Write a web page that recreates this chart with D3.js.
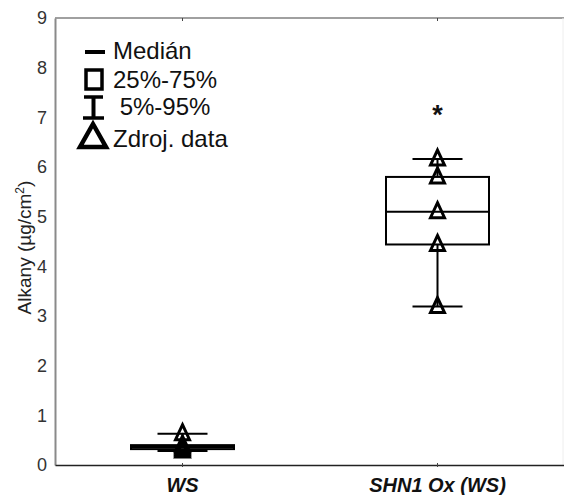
<!DOCTYPE html>
<html>
<head>
<meta charset="utf-8">
<script src="https://cdn.jsdelivr.net/npm/d3@7"></script>
<style>
  html, body { margin: 0; padding: 0; background: #fff; }
  svg { display: block; font-family: "Liberation Sans", Arial, sans-serif; }
</style>
</head>
<body>
<svg id="chart" width="564" height="495"></svg>
<script>
// ---- Data ----
const categories = ["WS", "SHN1 Ox (WS)"];
const rawData = [
  [0.28, 0.32, 0.36, 0.40, 0.63],
  [3.19, 4.44, 5.10, 5.80, 6.16]
];
const medians = [0.36, 5.10];
const q1 = [0.32, 4.44];
const q3 = [0.40, 5.80];
const p05 = [0.28, 3.19];
const p95 = [0.63, 6.16];
const significance = [null, 7.15];
const yTicks = [0, 1, 2, 3, 4, 5, 6, 7, 8, 9];
const legendLabels = ["Medián", "25%-75%", " 5%-95%", "Zdroj. data"];
const yTitle = "Alkany (µg/cm";

// ---- Layout ----
const svg = d3.select("#chart");
const mLeft = 55, mRight = 565, mTop = 18, mBottom = 465;

const x = d3.scaleBand().domain(categories).range([mLeft, mRight]).paddingInner(0).paddingOuter(0);
const y = d3.scaleLinear().domain([0, 9]).range([mBottom, mTop]);
const cx = c => x(c) + x.bandwidth() / 2;

// frame
svg.append("line").attr("x1", mLeft).attr("x2", mRight).attr("y1", mTop).attr("y2", mTop)
  .attr("stroke", "#808080").attr("stroke-width", 1.5);
svg.append("line").attr("x1", 563).attr("x2", 563).attr("y1", mTop).attr("y2", mBottom)
  .attr("stroke", "#eeeeee").attr("stroke-width", 1);

// y axis
const yAxis = svg.append("g").attr("transform", `translate(${mLeft},0)`)
  .call(d3.axisLeft(y).tickValues(yTicks).tickFormat(d3.format("d")).tickSize(0).tickPadding(8));
yAxis.select(".domain").attr("stroke", "#8a8a8a").attr("stroke-width", 2);
yAxis.selectAll("text").attr("font-size", 18).attr("fill", "#333")
  .attr("font-family", "Liberation Sans, Arial, sans-serif");

// x axis (bottom)
const xAxis = svg.append("g").attr("transform", `translate(0,${mBottom})`)
  .call(d3.axisBottom(x).tickSize(3).tickPadding(6).tickSizeOuter(0));
xAxis.select(".domain").attr("stroke", "#222").attr("stroke-width", 1.5);
xAxis.selectAll(".tick line").attr("stroke", "#444").attr("y1", -2).attr("y2", 2);
xAxis.selectAll("text").attr("font-size", 20).attr("font-weight", "bold").attr("font-style", "italic")
  .attr("fill", "#111").attr("font-family", "Liberation Sans, Arial, sans-serif").attr("dy", "0.92em");

// top tick marks
svg.append("g").selectAll("line").data(categories).join("line")
  .attr("x1", d => cx(d)).attr("x2", d => cx(d)).attr("y1", mTop).attr("y2", mTop + 3)
  .attr("stroke", "#444").attr("stroke-width", 1);

// y title
const yt = svg.append("text")
  .attr("transform", `translate(31,${(mTop + mBottom) / 2 + 6}) rotate(-90)`)
  .attr("text-anchor", "middle").attr("font-size", 19).attr("fill", "#222");
yt.append("tspan").text(yTitle);
yt.append("tspan").text("2").attr("font-size", 12).attr("dy", -7);
yt.append("tspan").text(")").attr("dy", 7);

// ---- Boxes ----
const boxW = 103, capW = 50;
const g = svg.append("g");
categories.forEach((c, i) => {
  const xc = cx(c);
  g.append("line").attr("x1", xc).attr("x2", xc).attr("y1", y(p05[i])).attr("y2", y(p95[i]))
    .attr("stroke", "#000").attr("stroke-width", 2);
  [p05[i], p95[i]].forEach(v => {
    g.append("line").attr("x1", xc - capW / 2).attr("x2", xc + capW / 2).attr("y1", y(v)).attr("y2", y(v))
      .attr("stroke", "#000").attr("stroke-width", 2);
  });
  g.append("rect").attr("x", xc - boxW / 2).attr("y", y(q3[i])).attr("width", boxW)
    .attr("height", y(q1[i]) - y(q3[i])).attr("fill", "#fff").attr("stroke", "#000").attr("stroke-width", 2);
  g.append("line").attr("x1", xc - boxW / 2).attr("x2", xc + boxW / 2).attr("y1", y(medians[i])).attr("y2", y(medians[i]))
    .attr("stroke", "#000").attr("stroke-width", 2);
  g.selectAll(null).data(rawData[i]).join("path")
    .attr("d", d => `M${xc},${y(d) - 9} L${xc + 7},${y(d) + 6} L${xc - 7},${y(d) + 6} Z`)
    .attr("fill", "none").attr("stroke", "#000").attr("stroke-width", 3).attr("stroke-linejoin", "miter");
  if (significance[i] != null) {
    g.append("text").attr("x", xc).attr("y", y(significance[i]) + 14)
      .attr("text-anchor", "middle").attr("font-size", 27).attr("font-weight", "bold").attr("fill", "#111")
      .text("*");
  }
});

// ---- Legend ----
const lg = svg.append("g");
const lx = 113;
lg.append("line").attr("x1", 85).attr("x2", 105).attr("y1", 52).attr("y2", 52).attr("stroke", "#000").attr("stroke-width", 4);
lg.append("rect").attr("x", 86).attr("y", 70).attr("width", 16).attr("height", 19)
  .attr("fill", "none").attr("stroke", "#000").attr("stroke-width", 3.5);
lg.append("line").attr("x1", 84).attr("x2", 103).attr("y1", 97).attr("y2", 97).attr("stroke", "#000").attr("stroke-width", 3.5);
lg.append("line").attr("x1", 93.5).attr("x2", 93.5).attr("y1", 97).attr("y2", 118).attr("stroke", "#000").attr("stroke-width", 4);
lg.append("line").attr("x1", 83).attr("x2", 104).attr("y1", 118).attr("y2", 118).attr("stroke", "#000").attr("stroke-width", 3.5);
lg.append("path").attr("d", "M93,124 L106,147 L80,147 Z").attr("fill", "none")
  .attr("stroke", "#000").attr("stroke-width", 4.5);
const lys = [59, 88, 115, 147];
lg.selectAll("text").data(legendLabels).join("text")
  .attr("x", lx).attr("y", (d, i) => lys[i])
  .attr("font-size", 24).attr("fill", "#111")
  .style("white-space", "pre")
  .text(d => d);
</script>
</body>
</html>
